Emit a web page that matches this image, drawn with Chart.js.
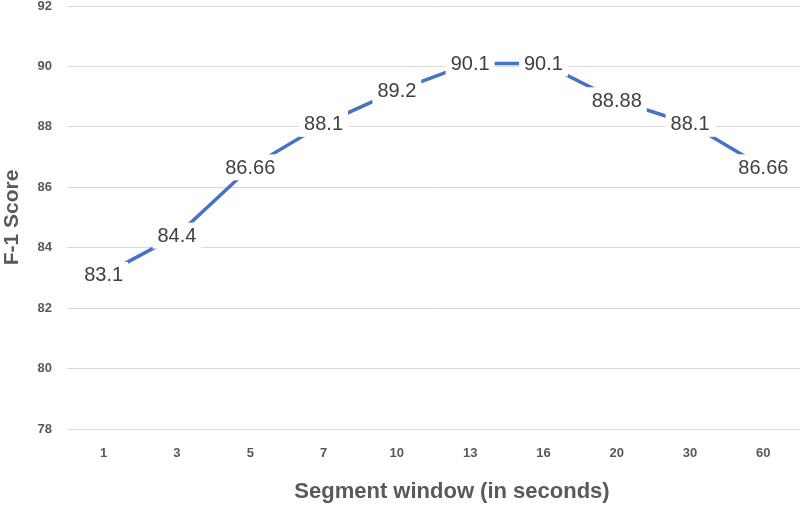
<!DOCTYPE html>
<html>
<head>
<meta charset="utf-8">
<script src="https://cdn.jsdelivr.net/npm/chart.js@4/dist/chart.umd.min.js"></script>
<style>
  html, body { margin: 0; padding: 0; background: #fff; }
</style>
</head>
<body>
<canvas id="chart" width="800" height="506"></canvas>
<script>
var windows = ["1", "3", "5", "7", "10", "13", "16", "20", "30", "60"];
var f1Scores = [83.1, 84.4, 86.66, 88.1, 89.2, 90.1, 90.1, 88.88, 88.1, 86.66];
var yTicks = [78, 80, 82, 84, 86, 88, 90, 92];

var xTitle = "Segment window (in seconds)";

// white boxed value labels sitting on top of the line
var valueLabels = {
    id: 'value_labels',
    afterDatasetsDraw(chart) {
        var ctx = chart.ctx;
        var meta = chart.getDatasetMeta(0);
        ctx.save();
        ctx.font = "20px 'Liberation Sans', Arial, sans-serif";
        ctx.textAlign = "center";
        ctx.textBaseline = "middle";
        meta.data.forEach(function (pt, i) {
            var txt = String(f1Scores[i]);
            var w = ctx.measureText(txt).width;
            ctx.fillStyle = "#ffffff";
            ctx.fillRect(pt.x - w / 2 - 5, pt.y - 13, w + 10, 26);
            ctx.fillStyle = "#404040";
            ctx.fillText(txt, pt.x, pt.y + 1);
        });
        ctx.restore();
    }
};

var xAxisTitle = {
    id: 'x_title',
    afterDraw(chart) {
        var ctx = chart.ctx;
        ctx.save();
        ctx.font = "bold 22px 'Liberation Sans', Arial, sans-serif";
        ctx.fillStyle = "#595959";
        ctx.textAlign = "center";
        ctx.textBaseline = "middle";
        ctx.fillText(xTitle, 452, 492);
        ctx.restore();
    }
};

var ctx = document.getElementById("chart").getContext("2d");
var chart = new Chart(ctx, {
    type: "line",
    data: {
        labels: windows,
        datasets: [{
            data: f1Scores,
            borderColor: "#4472C4",
            backgroundColor: "#4472C4",
            borderWidth: 3.5,
            pointRadius: 0,
            tension: 0,
            fill: false
        }]
    },
    options: {
        responsive: false,
        animation: false,
        devicePixelRatio: 1,
        layout: { padding: { top: 6, right: 0, left: 0, bottom: 0 } },
        plugins: {
            legend: { display: false },
            tooltip: { enabled: false }
        },
        scales: {
            x: {
                offset: true,
                grid: { display: false, drawTicks: false },
                border: { display: false },
                ticks: {
                    padding: 17,
                    color: "#595959",
                    font: { family: "'Liberation Sans', Arial, sans-serif", size: 13, weight: "bold" }
                },
                afterFit(scale) { scale.height = 77; }
            },
            y: {
                min: 78,
                max: 92,
                afterBuildTicks(scale) {
                    scale.ticks = yTicks.map(function (v) { return { value: v }; });
                },
                grid: { color: "#d9d9d9", lineWidth: 1, drawTicks: false },
                border: { display: false },
                ticks: {
                    padding: 15,
                    color: "#595959",
                    font: { family: "'Liberation Sans', Arial, sans-serif", size: 13, weight: "bold" }
                },
                title: {
                    display: true,
                    text: "F-1 Score",
                    color: "#595959",
                    padding: { top: 0, bottom: 0 },
                    font: { family: "'Liberation Sans', Arial, sans-serif", size: 21, weight: "bold" }
                },
                afterFit(scale) {
                    scale.width = 67;
                    scale.paddingTop = 0;
                    scale.paddingBottom = 0;
                }
            }
        }
    },
    plugins: [valueLabels, xAxisTitle]
});
</script>
</body>
</html>
